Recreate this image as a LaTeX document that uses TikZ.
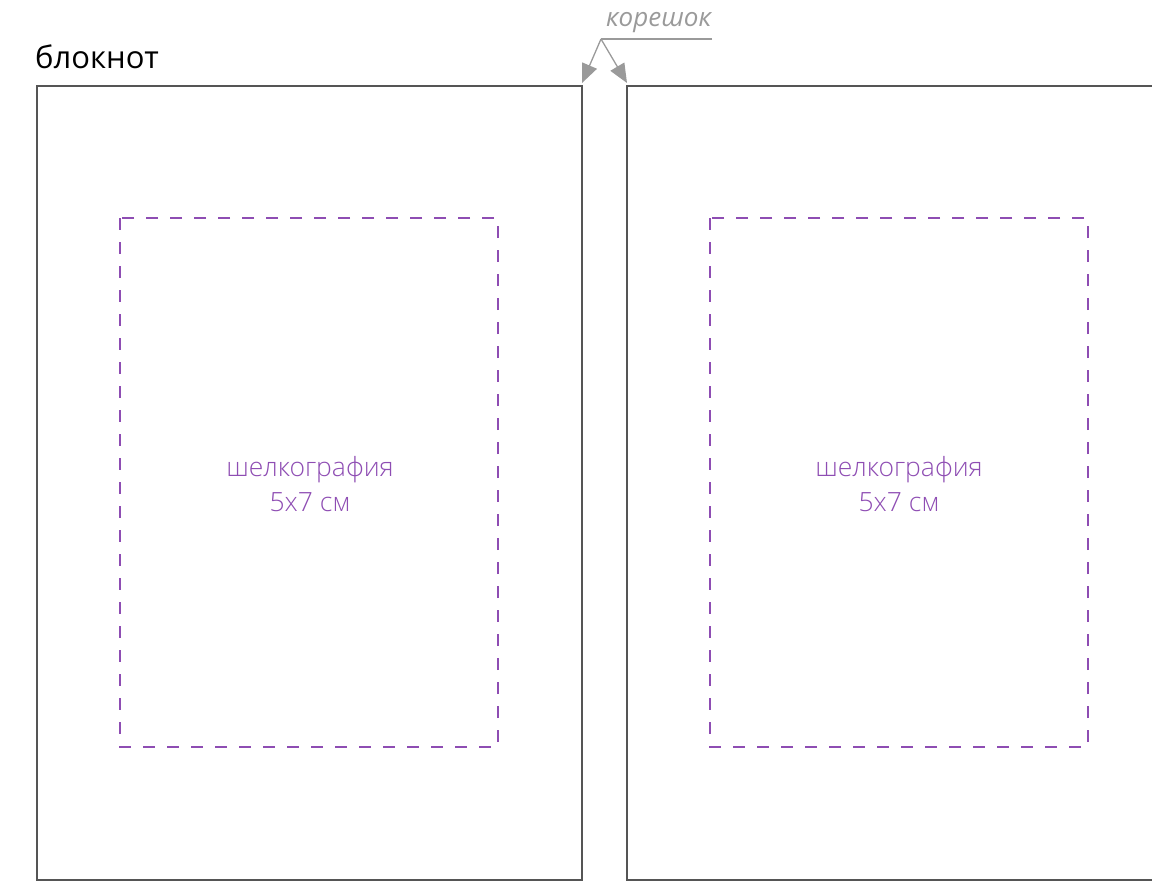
\documentclass[tikz,border=0pt]{standalone}
\usepackage{fontspec}
\setmainfont{Open Sans}
\newfontfamily\lightfont{Open Sans Light}
\usetikzlibrary{arrows.meta}
\definecolor{frame}{HTML}{555555}
\definecolor{lilac}{HTML}{8E4DB3}
\definecolor{note}{HTML}{9A9A9A}
\tikzset{
  page/.style={draw=frame, line width=1.6pt},
  zone/.style={draw=lilac, line width=1.3pt, dash pattern=on 12pt off 12pt},
  ztext/.style={text=lilac, font=\lightfont\fontsize{26.5}{35}\selectfont, align=center},
  ptr/.style={draw=note, line width=1.3pt, -{Triangle[width=16pt,length=19pt]}},
}
\begin{document}
\begin{tikzpicture}[x=1pt,y=-1pt]
\useasboundingbox (0,0) rectangle (1152,891);
\draw[page] (37,880) -- (37,86) -- (582,86) -- (582,880) -- cycle;
\draw[page] (1160,880) -- (627,880) -- (627,86) -- (1160,86);
\coordinate (lpage) at (582,83);
\coordinate (rpage) at (627,83);
\draw[zone] (120,218) rectangle (498,747);
\draw[zone] (710,218) rectangle (1088,747);
\node[ztext] (t1) at (310,484) {шелкография\\5x7 см};
\node[ztext] (t2) at (899,484) {шелкография\\5x7 см};
\node[anchor=west, inner sep=0pt, font=\fontsize{31}{35}\selectfont, text=black] (title) at (35,57) {блокнот};
\node[anchor=south west, inner sep=0pt, font=\fontsize{26}{30}\itshape\selectfont, text=note] (spine) at (606,33) {корешок};
\coordinate (knee) at (601,39);
\draw[draw=note, line width=1.3pt] (712,39) -- (knee);
\draw[ptr] (knee) -- (lpage);
\draw[ptr] (knee) -- (rpage);
\end{tikzpicture}
\end{document}
